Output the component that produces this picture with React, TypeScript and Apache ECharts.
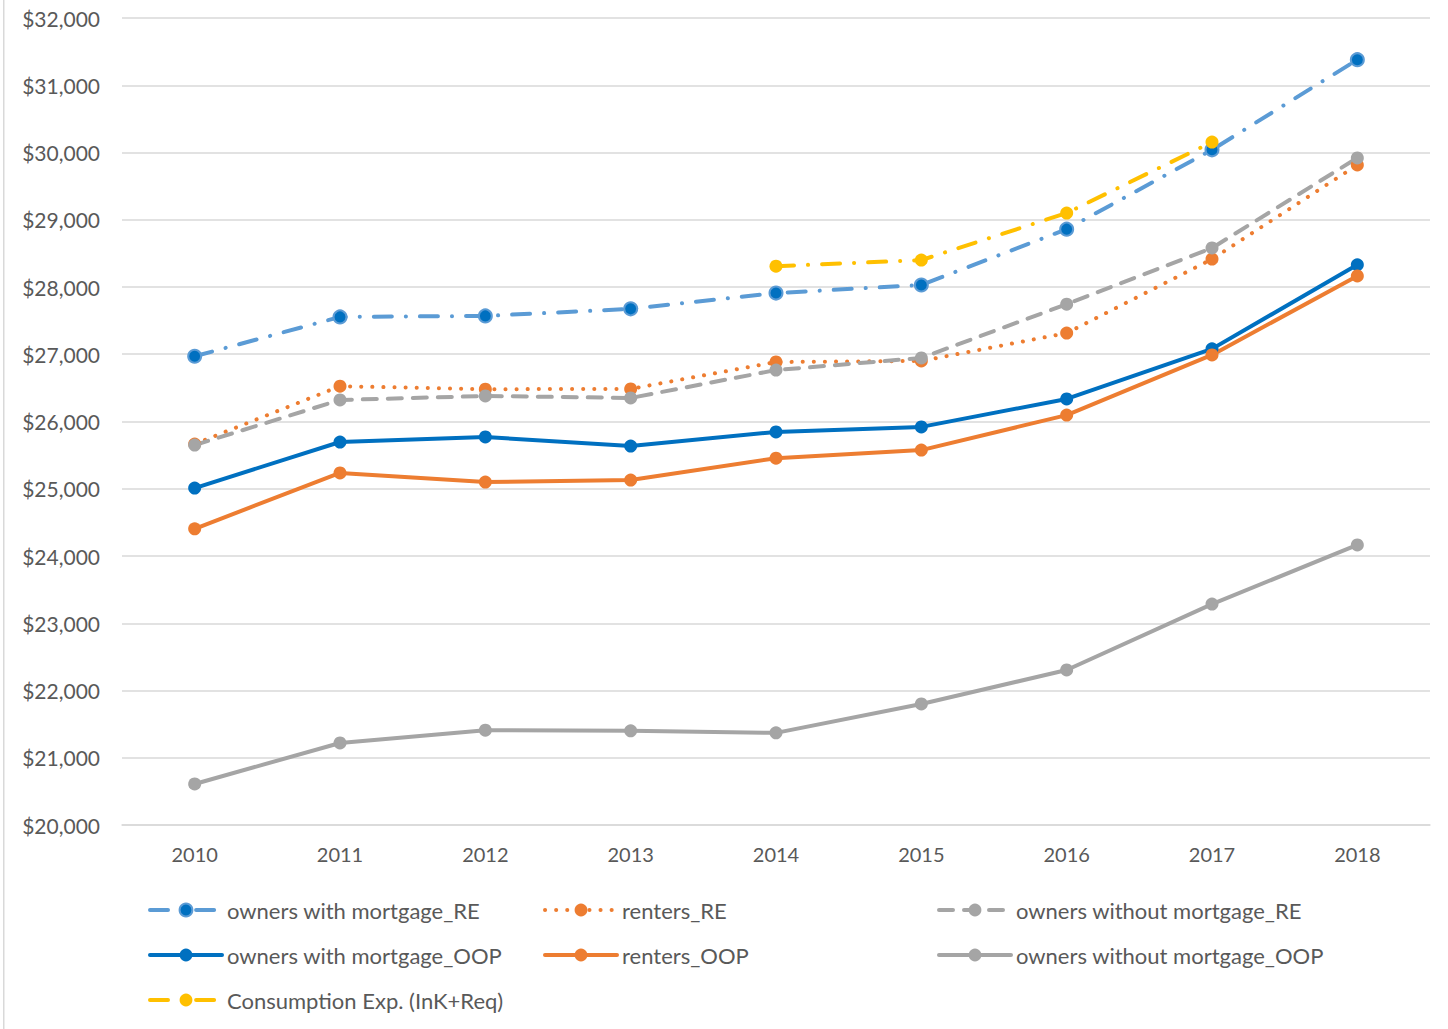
import React, { useEffect, useRef } from "react";
import * as echarts from "echarts";

const years = ["2010", "2011", "2012", "2013", "2014", "2015", "2016", "2017", "2018"];
const ownersMortgageRE = [26970, 27555, 27570, 27675, 27910, 28030, 28860, 30040, 31380];
const rentersRE = [25665, 26525, 26480, 26485, 26885, 26900, 27315, 28415, 29815];
const ownersNoMortgageRE = [25650, 26320, 26380, 26350, 26765, 26945, 27745, 28580, 29920];
const ownersMortgageOOP = [25010, 25695, 25770, 25635, 25845, 25920, 26335, 27080, 28330];
const rentersOOP = [24405, 25235, 25100, 25130, 25455, 25575, 26095, 26990, 28165];
const ownersNoMortgageOOP = [20610, 21220, 21410, 21400, 21370, 21800, 22305, 23285, 24165];
const consumptionExp = [null, null, null, null, 28310, 28400, 29100, 30155, null];

const FONT = "Lato";
const TXT = "#595959";

export default function App() {
  const ref = useRef<HTMLDivElement>(null);
  useEffect(() => {
    const chart = echarts.init(ref.current!, null, { renderer: "svg" });
    const mk = (
      name: string,
      data: (number | null)[],
      lineColor: string,
      markerColor: string,
      type: any,
      borderColor?: string
    ) => ({
      name,
      type: "line",
      data,
      symbol: "circle",
      symbolSize: 13,
      showAllSymbol: true,
      connectNulls: false,
      lineStyle: { color: lineColor, width: 4, type, cap: "round", join: "round" },
      itemStyle: {
        color: markerColor,
        borderColor: borderColor || markerColor,
        borderWidth: borderColor ? 2 : 0,
      },
      emphasis: { disabled: true },
    });
    const legendBase = {
      orient: "vertical",
      itemWidth: 72,
      itemHeight: 16,
      itemGap: 23,
      top: 894,
      lineStyle: { width: 4 },
      textStyle: { fontFamily: FONT, fontSize: 22, color: TXT },
      selectedMode: false,
    };
    chart.setOption({
      animation: false,
      backgroundColor: "#ffffff",
      grid: { left: 122, right: 18, top: 18, bottom: 204, containLabel: false },
      legend: [
        { ...legendBase, left: 143, data: ["owners with mortgage_RE", "owners with mortgage_OOP", "Consumption Exp. (InK+Req)"] },
        { ...legendBase, left: 538, data: ["renters_RE", "renters_OOP"] },
        { ...legendBase, left: 932, data: ["owners without mortgage_RE", "owners without mortgage_OOP"] },
      ],
      xAxis: {
        type: "category",
        data: years,
        boundaryGap: true,
        axisLine: { show: true, lineStyle: { color: "#D9D9D9", width: 1.5 } },
        axisTick: { show: false },
        axisLabel: { fontFamily: FONT, fontSize: 20, color: TXT, margin: 19 },
      },
      yAxis: {
        type: "value",
        min: 20000,
        max: 32000,
        interval: 1000,
        axisLine: { show: false },
        axisTick: { show: false },
        splitLine: { lineStyle: { color: "#D9D9D9", width: 1.5 } },
        axisLabel: {
          fontFamily: FONT,
          fontSize: 21,
          color: TXT,
          margin: 22,
          formatter: (v: number) => "$" + v.toLocaleString("en-US"),
        },
      },
      graphic: [
        {
          type: "line",
          shape: { x1: 3.75, y1: 0, x2: 3.75, y2: 1029 },
          style: { stroke: "#D9D9D9", lineWidth: 1.5 },
        },
      ],
      series: [
        mk("owners with mortgage_RE", ownersMortgageRE, "#5B9BD5", "#0070C0", [18, 14, 0.1, 14], "#5B9BD5"),
        mk("renters_RE", rentersRE, "#ED7D31", "#ED7D31", [0.1, 11]),
        mk("owners without mortgage_RE", ownersNoMortgageRE, "#A5A5A5", "#A5A5A5", [14, 11]),
        mk("owners with mortgage_OOP", ownersMortgageOOP, "#0070C0", "#0070C0", "solid"),
        mk("renters_OOP", rentersOOP, "#ED7D31", "#ED7D31", "solid"),
        mk("owners without mortgage_OOP", ownersNoMortgageOOP, "#A5A5A5", "#A5A5A5", "solid"),
        mk("Consumption Exp. (InK+Req)", consumptionExp, "#FFC000", "#FFC000", [18, 14, 0.1, 14]),
      ],
    });
    return () => chart.dispose();
  }, []);
  return (
    <div
      ref={ref}
      style={{ position: "absolute", left: 0, top: 0, width: 1448, height: 1029 }}
    />
  );
}
